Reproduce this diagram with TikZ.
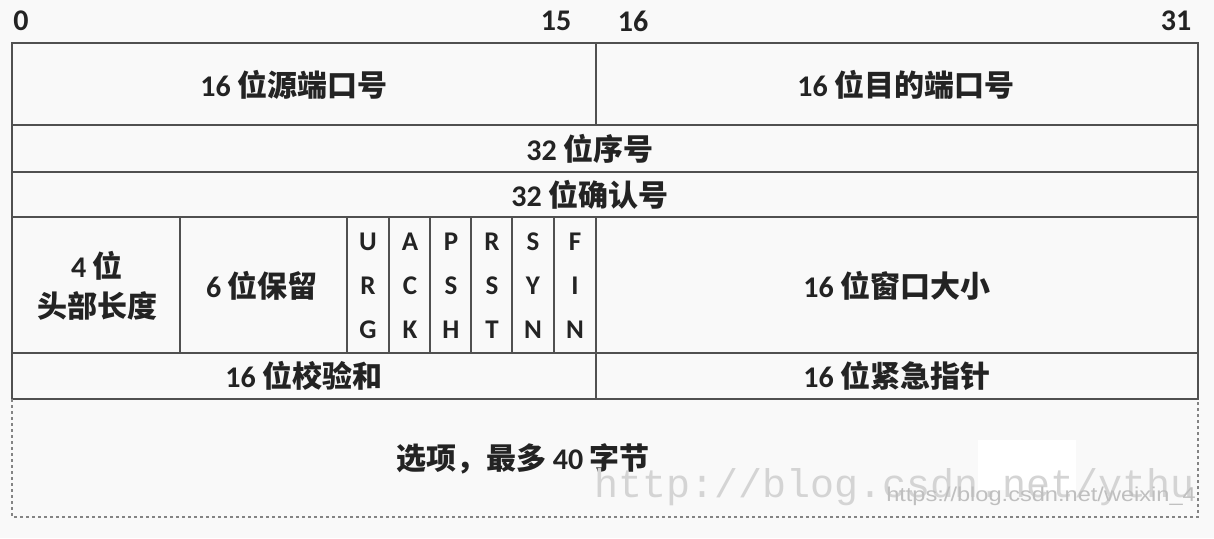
\documentclass[tikz,border=0pt]{standalone}
\usepackage{fontspec}
\setmainfont{Carlito}
\newfontfamily\cjk{Noto Sans CJK SC}
\newfontfamily\wmono{Liberation Mono}
\newfontfamily\wsans{Liberation Sans}
\newcommand\zh[1]{{\cjk #1}}
\definecolor{ln}{RGB}{80,80,80}
\definecolor{tx}{RGB}{35,35,35}
\definecolor{bg}{RGB}{249,249,249}
\definecolor{wm}{RGB}{212,212,212}
\begin{document}
\begin{tikzpicture}[x=1pt,y=-1pt,
  lbl/.style={font=\fontsize{30}{30}\selectfont\bfseries, text=tx, inner sep=0pt},
  flag/.style={lbl, align=center, font=\fontsize{27}{44}\selectfont\bfseries},
  solidline/.style={draw=ln, line width=2pt},
  dashline/.style={draw=ln!70, line width=1.6pt, dash pattern=on 3pt off 3pt}]
\fill[bg] (0,0) rectangle (1214,538);
\useasboundingbox (0,0) rectangle (1214,538);
% watermark patch
\fill[white] (978,440) rectangle (1076,490);
% grid
\draw[solidline] (12,43) rectangle (1198,399);
\foreach \yy in {125,172,217,353} \draw[solidline] (12,\yy) -- (1198,\yy);
\draw[solidline] (596,43) -- (596,125);
\draw[solidline] (596,217) -- (596,399);
\foreach \xx in {180,347,389,430,471,512,554} \draw[solidline] (\xx,217) -- (\xx,353);
\draw[dashline] (12,399) -- (12,517) -- (1198,517) -- (1198,399);
% bit numbers
\node[lbl] (b0) at (21,21) {0};
\node[lbl] (b15) at (556,21) {15};
\node[lbl] (b16) at (633,21) {16};
\node[lbl] (b31) at (1176,21) {31};
% fields
\node[lbl] (sport) at (294,85) {16 \zh{位源端口号}};
\node[lbl] (dport) at (906,85) {16 \zh{位目的端口号}};
\node[lbl] (seq) at (590,149) {32 \zh{位序号}};
\node[lbl] (ack) at (590,195) {32 \zh{位确认号}};
\node[lbl, align=center, font=\fontsize{30}{40}\selectfont\bfseries] (hlen) at (97,286) {4 \zh{位}\\\zh{头部长度}};
\node[lbl] (resv) at (262,286) {6 \zh{位保留}};
\node[flag] (urg) at (368,286) {U\\R\\G};
\node[flag] (fack) at (410,286) {A\\C\\K};
\node[flag] (psh) at (451,286) {P\\S\\H};
\node[flag] (rst) at (492,286) {R\\S\\T};
\node[flag] (syn) at (533,286) {S\\Y\\N};
\node[flag] (fin) at (575,286) {F\\I\\N};
\node[lbl] (win) at (897,286) {16 \zh{位窗口大小}};
\node[lbl] (csum) at (304,376) {16 \zh{位校验和}};
\node[lbl] (urgp) at (897,376) {16 \zh{位紧急指针}};
\node[lbl] (opt) at (523,459) {\zh{选项，最多} 40 \zh{字节}};
% watermark
\node[anchor=base west, inner sep=0pt, text=wm, font=\wmono\fontsize{40}{40}\selectfont] (wm1) at (594,497) {http://blog.csdn.net/ythu};
\node[anchor=base west, inner sep=0pt, text=wm!90!black, font=\wsans\fontsize{20}{20}\selectfont, xscale=1.18] (wm2) at (886,501) {https://blog.csdn.net/weixin\_4};
\end{tikzpicture}
\end{document}
